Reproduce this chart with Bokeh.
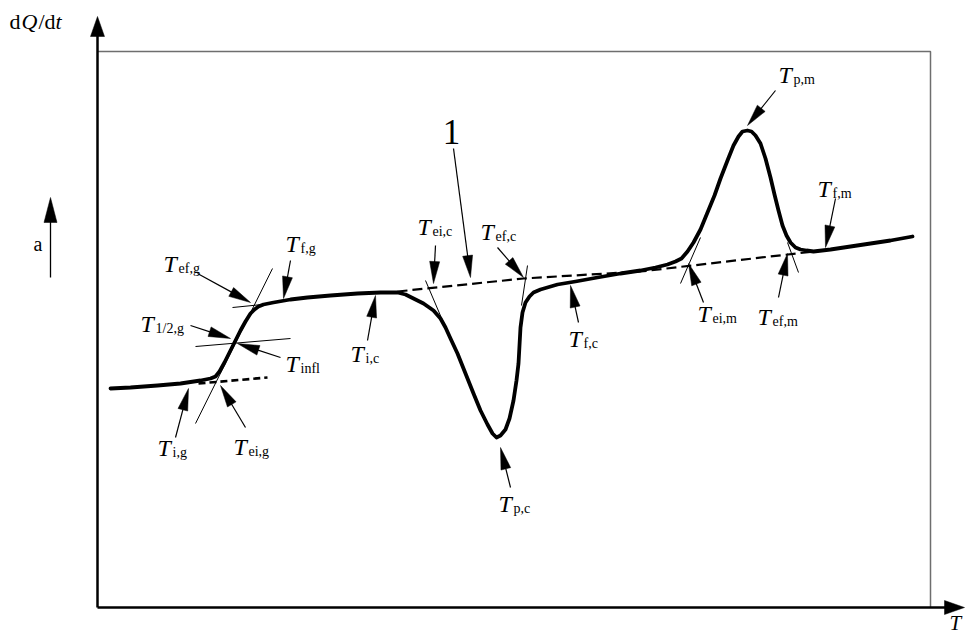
import numpy as np
from bokeh.plotting import figure
from bokeh.models import Range1d
from bokeh.core.properties import value
from bokeh.embed import file_html
from bokeh.resources import INLINE

# ---------------- data (schematic DSC curve) ----------------
curve_T = [110, 130, 157, 180, 200, 210, 215, 219, 224, 230, 235, 240, 245, 250, 254, 258, 263, 273,
           290, 307, 330, 357, 380, 397,
           405, 413, 423, 433, 440, 445, 450, 457, 465, 473, 480, 487, 492, 496, 500, 505, 509, 513,
           516, 518, 519, 520, 522, 525, 529, 533, 540, 557, 575, 597, 620, 640,
           655, 667, 675, 681, 687, 693, 700, 707, 714, 720, 727, 733, 738, 742, 747, 751, 755, 760,
           765, 770, 774, 778, 782, 786, 790, 795, 800, 806, 813, 830, 850, 870, 890, 912]
curve_q = [388, 387, 385, 383, 380, 378, 376, 371, 362, 350, 340, 330, 321, 313, 309, 306, 304, 302,
           299, 297, 295, 293, 292, 292,
           294, 298, 303, 310, 318, 327, 338, 353, 373, 393, 410, 424, 433, 437, 435, 429, 418, 400,
           380, 363, 345, 327, 312, 302, 296, 292, 289, 284, 281, 277, 273, 270,
           267, 264, 261, 258, 251, 242, 229, 212, 195, 178, 160, 145, 136, 131, 130, 131, 135, 143,
           158, 177, 194, 210, 225, 235, 242, 247, 249, 250, 251, 249, 246, 243, 240, 236]

# dashed (interpolated) baselines
base_glass_T = [198, 267]
base_glass_q = [383, 377]
base_main_T = [397, 523, 640, 813]
base_main_q = [291, 278, 271, 251]

# thin construction (tangent) lines
tan_T0 = [272, 232, 195, 425, 527, 680, 787]
tan_q0 = [268, 307, 346, 280, 265, 283, 242]
tan_T1 = [195, 262, 290, 445, 521, 700, 798]
tan_q1 = [423, 304, 338, 327, 305, 237, 272]

# annotation arrows: tail -> tip
arr_T0 = [453, 435, 497, 578, 510, 197, 290, 190, 280, 175, 245, 367, 775, 835, 703, 778]
arr_q0 = [148, 245, 247, 322, 487, 273, 260, 325, 357, 437, 427, 340, 90, 198, 302, 297]
arr_T1 = [470, 433, 523, 570, 500, 250, 283, 230, 237, 188, 220, 375, 747, 825, 688, 787]
arr_q1 = [277, 283, 277, 285, 447, 302, 298, 338, 343, 388, 385, 295, 125, 247, 263, 253]

# labels "T" + subscript (left x, baseline)
lab_sub = ["ef,g", "f,g", "1/2,g", "infl", "i,g", "ei,g", "i,c", "ei,c", "ef,c", "f,c", "p,c",
           "p,m", "f,m", "ei,m", "ef,m"]
lab_x = [163, 285, 140, 285, 157, 233, 350, 417, 480, 568, 498, 778, 817, 697, 757]
lab_y = [272, 252, 332, 372, 456, 455, 362, 235, 240, 347, 512, 83, 197, 322, 325]

# axes / frame
axis_origin = (97, 607)
y_axis_tip = 16
x_axis_tip = 964
frame_top = 51
frame_right = 930

W, H = 967, 637
p = figure(width=W, height=H, output_backend="svg", toolbar_location=None,
           x_range=Range1d(0, W), y_range=Range1d(H, 0),
           x_axis_location=None, y_axis_location=None, min_border=0,
           background_fill_color="white", border_fill_color="white")
p.outline_line_color = None
p.xgrid.visible = False
p.ygrid.visible = False

FONT = value("Liberation Serif")


def mid(baselines, size):
    # convert a text baseline position to the middle of the text box
    return [b - 0.34 * size for b in baselines]


def heads(x0, y0, x1, y1, L=20.0, Wd=9.0):
    xs, ys = [], []
    for a, b, c, d in zip(x0, y0, x1, y1):
        v = np.array([c - a, d - b], float)
        v /= np.hypot(*v)
        n = np.array([-v[1], v[0]])
        base = np.array([c, d]) - L * v
        p1 = base + n * Wd / 2
        p2 = base - n * Wd / 2
        xs.append([c, p1[0], p2[0]])
        ys.append([d, p1[1], p2[1]])
    return xs, ys


def shaft_end(x0, y0, x1, y1, L):
    ex, ey = [], []
    for a, b, c, d in zip(x0, y0, x1, y1):
        v = np.array([c - a, d - b], float)
        v /= np.hypot(*v)
        ex.append(c - v[0] * (L - 2))
        ey.append(d - v[1] * (L - 2))
    return ex, ey


# frame (gray)
ox, oy = axis_origin
p.line([ox, frame_right, frame_right], [frame_top, frame_top, oy], line_color="#6e6e6e", line_width=1.5)

# axes
p.segment([ox, ox], [oy, oy], [ox, x_axis_tip - 18], [y_axis_tip + 16, oy], line_color="black", line_width=2.5)
hx, hy = heads([ox, ox], [oy, oy], [ox, x_axis_tip], [y_axis_tip, oy], L=20, Wd=14)
p.patches(hx, hy, fill_color="black", line_color="black", line_width=0.5)

# "a" direction arrow
ax0, ay0, ax1, ay1 = [50], [277], [50], [197]
p.segment(ax0, ay0, ax1, [ay1[0] + 20], line_color="black", line_width=1.3)
hx, hy = heads(ax0, ay0, ax1, ay1, L=25, Wd=13)
p.patches(hx, hy, fill_color="black", line_color="black", line_width=0.5)

# tangent/construction lines
p.segment(tan_T0, tan_q0, tan_T1, tan_q1, line_color="black", line_width=1.0)

# dashed baselines
p.line(base_glass_T, base_glass_q, line_color="black", line_width=2.6, line_dash="7 4")
p.line(base_main_T, base_main_q, line_color="black", line_width=2.2, line_dash="10 5")

# DSC curve
p.line(curve_T, curve_q, line_color="black", line_width=3.8, line_join="round", line_cap="round")

# annotation arrows
AL, AW = 22, 10
ex, ey = shaft_end(arr_T0, arr_q0, arr_T1, arr_q1, AL)
p.segment(arr_T0, arr_q0, ex, ey, line_color="black", line_width=1.2)
hx, hy = heads(arr_T0, arr_q0, arr_T1, arr_q1, L=AL, Wd=AW)
p.patches(hx, hy, fill_color="black", line_color="black", line_width=0.5)

# labels
TS, SS = 24, 14
p.text(x=lab_x, y=mid(lab_y, TS), text=["T"] * len(lab_x), text_font=FONT, text_font_size=value(f"{TS}px"),
       text_font_style="italic", text_baseline="middle", text_align="left", text_color="black")
p.text(x=[x + 15 for x in lab_x], y=mid([y + 1 for y in lab_y], SS), text=lab_sub, text_font=FONT,
       text_font_size=value(f"{SS}px"), text_baseline="middle", text_align="left", text_color="black")

# "1" marker
p.text(x=[451], y=mid([143], 35), text=["1"], text_font=FONT, text_font_size=value("35px"),
       text_baseline="middle", text_align="center", text_color="black")

# "a"
p.text(x=[33], y=mid([250], 20), text=["a"], text_font=FONT, text_font_size=value("20px"),
       text_baseline="middle", text_align="left", text_color="black")

# axis titles: dQ/dt  and  T
p.text(x=[9, 21, 38, 44, 55], y=mid([28] * 5, 22), text=["d", "Q", "/", "d", "t"], text_font=FONT,
       text_font_size=value("22px"), text_baseline="middle", text_align="left",
       text_font_style=["normal", "italic", "normal", "normal", "italic"], text_color="black")
p.text(x=[949], y=mid([630], 21), text=["T"], text_font=FONT, text_font_size=value("21px"),
       text_font_style="italic", text_baseline="middle", text_align="left", text_color="black")

open("out.html", "w").write(file_html(p, INLINE))
